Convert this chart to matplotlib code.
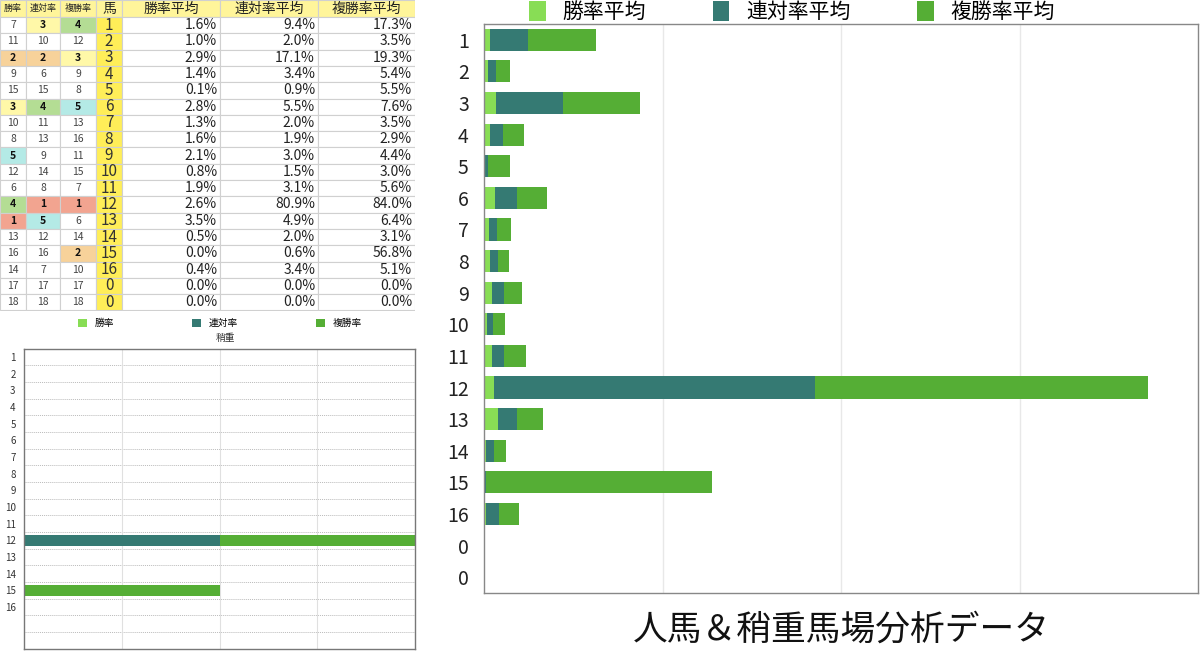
import matplotlib
matplotlib.use('Agg')
import matplotlib.pyplot as plt
from matplotlib.patches import Rectangle
import numpy as np

plt.rcParams['font.family'] = ['Noto Sans CJK JP', 'DejaVu Sans']

# data
horses = ['1', '2', '3', '4', '5', '6', '7', '8', '9', '10', '11', '12',
          '13', '14', '15', '16', '0', '0']
win_avg = [1.6, 1.0, 2.9, 1.4, 0.1, 2.8, 1.3, 1.6, 2.1, 0.8, 1.9, 2.6,
           3.5, 0.5, 0.0, 0.4, 0.0, 0.0]
ren_avg = [9.4, 2.0, 17.1, 3.4, 0.9, 5.5, 2.0, 1.9, 3.0, 1.5, 3.1, 80.9,
           4.9, 2.0, 0.6, 3.4, 0.0, 0.0]
fuku_avg = [17.3, 3.5, 19.3, 5.4, 5.5, 7.6, 3.5, 2.9, 4.4, 3.0, 5.6, 84.0,
            6.4, 3.1, 56.8, 5.1, 0.0, 0.0]
rank_win = [7, 11, 2, 9, 15, 3, 10, 8, 5, 12, 6, 4, 1, 13, 16, 14, 17, 18]
rank_ren = [3, 10, 2, 6, 15, 4, 11, 13, 9, 14, 8, 1, 5, 12, 16, 7, 17, 18]
rank_fuku = [4, 12, 3, 9, 8, 5, 13, 16, 11, 15, 7, 1, 6, 14, 2, 10, 17, 18]

# 稍重 chart
soft_labels = ['1', '2', '3', '4', '5', '6', '7', '8', '9', '10', '11', '12',
               '13', '14', '15', '16', '', '']
soft_win = [0] * 18
soft_ren = [0, 0, 0, 0, 0, 0, 0, 0, 0, 0, 0, 100, 0, 0, 0, 0, 0, 0]
soft_fuku = [0, 0, 0, 0, 0, 0, 0, 0, 0, 0, 0, 100, 0, 0, 100, 0, 0, 0]

headers = ['勝率', '連対率', '複勝率', '馬', '勝率平均', '連対率平均', '複勝率平均']

c_win = '#88dd55'
c_ren = '#357a73'
c_fuku = '#55ae35'
rank_colors = {1: '#f2a490', 2: '#f7d29a', 3: '#fff8a8', 4: '#b4dd94', 5: '#b4eae6'}

fig = plt.figure(figsize=(12, 6.51), dpi=100)

# ---- table ----
tab = fig.add_axes([0, 1 - 311 / 651, 415 / 1200, 311 / 651])
tab.set_xlim(0, 415)
tab.set_ylim(311, 0)
tab.axis('off')
col_edges = [0, 26, 60, 96, 122, 220, 318, 415]
head_h = 17
row_h = 16.3

for j, h in enumerate(headers):
    x0, x1 = col_edges[j], col_edges[j + 1]
    tab.add_patch(Rectangle((x0, 0), x1 - x0, head_h, facecolor='#fff59a',
                            edgecolor='#d0d0d0', lw=0.8))
    fs = 6.5 if j < 3 else 10
    tab.text((x0 + x1) / 2, head_h / 2, h, ha='center', va='center', fontsize=fs,
             color='#222222')

for i in range(len(horses)):
    y0 = head_h + i * row_h
    yc = y0 + row_h / 2
    for j, r in enumerate([rank_win[i], rank_ren[i], rank_fuku[i]]):
        x0, x1 = col_edges[j], col_edges[j + 1]
        tab.add_patch(Rectangle((x0, y0), x1 - x0, row_h,
                                facecolor=rank_colors.get(r, 'white'),
                                edgecolor='#d0d0d0', lw=0.8))
        tab.text((x0 + x1) / 2, yc, str(r), ha='center', va='center', fontsize=7.5,
                 fontweight='bold' if r <= 5 else 'normal',
                 color='#111111' if r <= 5 else '#444444')
    x0, x1 = col_edges[3], col_edges[4]
    tab.add_patch(Rectangle((x0, y0), x1 - x0, row_h, facecolor='#ffee58',
                            edgecolor='#d0d0d0', lw=0.8))
    tab.text((x0 + x1) / 2, yc, horses[i], ha='center', va='center', fontsize=11,
             color='#333333')
    for j, v in zip([4, 5, 6], [win_avg[i], ren_avg[i], fuku_avg[i]]):
        x0, x1 = col_edges[j], col_edges[j + 1]
        tab.add_patch(Rectangle((x0, y0), x1 - x0, row_h, facecolor='white',
                                edgecolor='#d0d0d0', lw=0.8))
        tab.text(x1 - 3, yc, f'{v:.1f}%', ha='right', va='center', fontsize=10,
                 color='#222222')

# ---- small 稍重 chart ----
ax2 = fig.add_axes([24 / 1200, 2.3 / 651, 391 / 1200, 300 / 651])
y2 = np.arange(len(soft_labels))
ax2.barh(y2, soft_win, height=0.7, color=c_win, label='勝率')
ax2.barh(y2, soft_ren, left=soft_win, height=0.7, color=c_ren, label='連対率')
left2 = np.array(soft_win) + np.array(soft_ren)
ax2.barh(y2, soft_fuku, left=left2, height=0.7, color=c_fuku, label='複勝率')
ax2.set_ylim(len(soft_labels) - 0.5, -0.5)
ax2.set_xlim(0, 200)
ax2.set_yticks(y2)
ax2.set_yticklabels(soft_labels, fontsize=7, color='#333333')
ax2.set_xticks([50, 100, 150])
ax2.set_xticklabels([])
ax2.tick_params(length=0, pad=6)
ax2.grid(axis='x', color='#e0e0e0', lw=0.8)
for yb in np.arange(0.5, len(soft_labels) - 1, 1):
    ax2.axhline(yb, color='#bbbbbb', lw=0.7, ls=(0, (1, 1)), zorder=0)
ax2.set_axisbelow(True)
for s in ax2.spines.values():
    s.set_color('#777777')
    s.set_linewidth(1)
fig.legend(*ax2.get_legend_handles_labels(), loc='center',
           bbox_to_anchor=(220 / 1200, 1 - 323 / 651), ncol=3, frameon=False,
           fontsize=7, handlelength=0.9, handleheight=0.9, columnspacing=8,
           handletextpad=0.8)
fig.text(225 / 1200, 1 - 338 / 651, '稍重', ha='center', va='center', fontsize=7,
         color='#333333')

# ---- main chart ----
ax = fig.add_axes([484 / 1200, 58 / 651, 714 / 1200, 569 / 651])
y = np.arange(len(horses))
ax.barh(y, win_avg, height=0.7, color=c_win, label='勝率平均')
ax.barh(y, ren_avg, left=win_avg, height=0.7, color=c_ren, label='連対率平均')
left = np.array(win_avg) + np.array(ren_avg)
ax.barh(y, fuku_avg, left=left, height=0.7, color=c_fuku, label='複勝率平均')
ax.set_ylim(len(horses) - 0.5, -0.5)
ax.set_xlim(0, 180)
ax.set_yticks(y)
ax.set_yticklabels(horses, fontsize=14, color='#222222')
ax.set_xticks([45, 90, 135])
ax.set_xticklabels([])
ax.tick_params(length=0, pad=11)
ax.grid(axis='x', color='#e8e8e8', lw=1)
ax.set_axisbelow(True)
for s in ax.spines.values():
    s.set_color('#888888')
    s.set_linewidth(1)
fig.legend(*ax.get_legend_handles_labels(), loc='center',
           bbox_to_anchor=(792 / 1200, 1 - 12 / 651), ncol=3, frameon=False,
           fontsize=15, handlelength=0.8, handleheight=1.1, columnspacing=3.2,
           handletextpad=0.8)
fig.text(841 / 1200, 1 - 630 / 651, '人馬＆稍重馬場分析データ', ha='center', va='center',
         fontsize=25, color='#111111')

fig.savefig('out.png', dpi=100)
